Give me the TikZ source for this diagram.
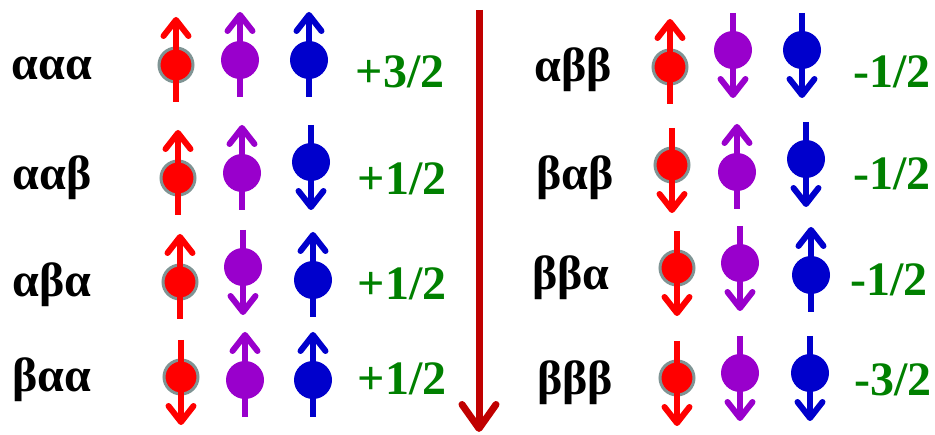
\documentclass[tikz,border=0pt]{standalone}
\usepackage{fontspec}
\setmainfont{Liberation Serif}
\newfontfamily\statefont{Liberation Serif Bold}
\usetikzlibrary{arrows.meta}
\definecolor{spinred}{HTML}{FF0000}
\definecolor{spinpurple}{HTML}{9900CC}
\definecolor{spinblue}{HTML}{0000CC}
\definecolor{ringgrey}{HTML}{7F9494}
\definecolor{totalgreen}{HTML}{008000}
\definecolor{axisred}{HTML}{C00000}
\tikzset{
  ball/.style={circle, inner sep=0pt, minimum size=38pt},
  redball/.style={circle, inner sep=0pt, minimum size=34pt, draw=ringgrey, line width=3pt},
  spinarrow/.style={line width=6pt, -{Straight Barb[round, length=16pt, width=25pt]}},
  state/.style={font=\statefont\fontsize{48}{50}\selectfont, inner sep=0pt, anchor=base},
  total/.style={state, text=totalgreen},
}
% spin with arrow pointing up / down; circle sits toward the tail of the arrow
\newcommand{\spinup}[5]{%
  \node[#5, fill=#4] (#1) at (#2,#3) {};
  \coordinate (#1-tail) at (#2,#3+37);
  \coordinate (#1-tip) at (#2,#3-48);
  \draw[spinarrow, draw=#4] (#1-tail) -- (#1-tip);
}
\newcommand{\spindown}[5]{%
  \node[#5, fill=#4] (#1) at (#2,#3) {};
  \coordinate (#1-tail) at (#2,#3-37);
  \coordinate (#1-tip) at (#2,#3+48);
  \draw[spinarrow, draw=#4] (#1-tail) -- (#1-tip);
}
\begin{document}
\begin{tikzpicture}[x=1pt, y=-1pt]
\useasboundingbox (0,0) rectangle (935,435);

% central arrow
\coordinate (axtop) at (479,10);
\coordinate (axbot) at (479,432);
\draw[line width=7pt, draw=axisred, -{Straight Barb[round, length=24pt, width=34pt]}] (axtop) -- (axbot);

% left column
\node[state] (l1) at (52,80) {ααα};
\node[state] (l2) at (52,190) {ααβ};
\node[state] (l3) at (52,297) {αβα};
\node[state] (l4) at (52,392) {βαα};

\node[total] (t1) at (400,88) {+3/2};
\node[total] (t2) at (402,195) {+1/2};
\node[total] (t3) at (402,300) {+1/2};
\node[total] (t4) at (402,395) {+1/2};

\spinup{a1}{176}{65}{spinred}{redball}
\spinup{b1}{240}{60}{spinpurple}{ball}
\spinup{c1}{309}{60}{spinblue}{ball}

\spinup{a2}{178}{178}{spinred}{redball}
\spinup{b2}{242}{173}{spinpurple}{ball}
\spindown{c2}{311}{162}{spinblue}{ball}

\spinup{a3}{180}{282}{spinred}{redball}
\spindown{b3}{243}{267}{spinpurple}{ball}
\spinup{c3}{313}{280}{spinblue}{ball}

\spindown{a4}{181}{377}{spinred}{redball}
\spinup{b4}{245}{380}{spinpurple}{ball}
\spinup{c4}{313}{380}{spinblue}{ball}

% right column
\node[state] (r1) at (573,82) {αββ};
\node[state] (r2) at (575,190) {βαβ};
\node[state] (r3) at (571,290) {ββα};
\node[state] (r4) at (575,395) {βββ};

\node[total] (s1) at (892,88) {-1/2};
\node[total] (s2) at (892,190) {-1/2};
\node[total] (s3) at (889,296) {-1/2};
\node[total] (s4) at (893,396) {-3/2};

\spinup{d1}{670}{67}{spinred}{redball}
\spindown{e1}{733}{50}{spinpurple}{ball}
\spindown{f1}{802}{50}{spinblue}{ball}

\spindown{d2}{672}{165}{spinred}{redball}
\spinup{e2}{737}{172}{spinpurple}{ball}
\spindown{f2}{806}{159}{spinblue}{ball}

\spindown{d3}{677}{268}{spinred}{redball}
\spindown{e3}{740}{263}{spinpurple}{ball}
\spinup{f3}{811}{275}{spinblue}{ball}

\spindown{d4}{677}{378}{spinred}{redball}
\spindown{e4}{740}{373}{spinpurple}{ball}
\spindown{f4}{810}{373}{spinblue}{ball}
\end{tikzpicture}
\end{document}
